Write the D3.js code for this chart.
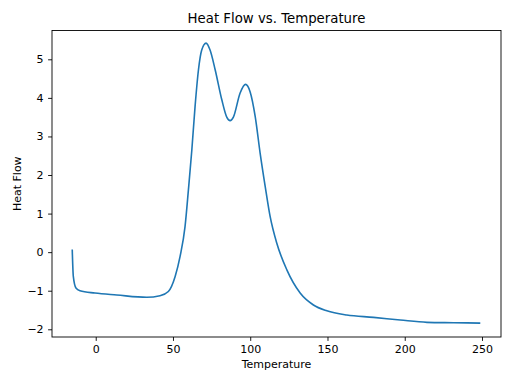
<!DOCTYPE html>
<html>
<head>
<meta charset="utf-8">
<script src="https://cdn.jsdelivr.net/npm/d3@7"></script>
<style>
  body { margin: 0; background: #fff; }
  text { font-family: "DejaVu Sans", sans-serif; fill: #000; }
</style>
</head>
<body>
<div class="chart"></div>
<script>
// temperature readings and heat flow
const temperature = [-15.2, -14.5, -12.8, -10.2, -0.5, 13.6, 33, 41.6, 47, 51.4, 54.6, 57.8, 60, 62.2, 64.3, 66.5, 68.6, 71.4, 74, 77.3, 81.6, 84.8, 87, 89.1, 93.4, 97, 99.9, 103.2, 106.4, 109.7, 112.9, 117.2, 123.7, 132.3, 140.9, 149.6, 162.5, 179.8, 197.1, 214.4, 231.6, 248.9];
const heatFlow = [0.07, -0.63, -0.93, -1.0, -1.06, -1.11, -1.17, -1.13, -1.02, -0.63, -0.11, 0.66, 1.62, 2.65, 3.78, 4.73, 5.24, 5.42, 5.24, 4.73, 3.95, 3.5, 3.41, 3.5, 4.12, 4.35, 4.16, 3.52, 2.57, 1.70, 0.92, 0.23, -0.46, -1.06, -1.37, -1.52, -1.63, -1.69, -1.76, -1.82, -1.83, -1.84];
const xTicks = [0, 50, 100, 150, 200, 250];
const yTicks = [-2, -1, 0, 1, 2, 3, 4, 5];

const width = 512, height = 384;
const margin = {left: 52, right: 11, top: 30.5, bottom: 47};

const data = temperature.map((t, i) => ({t: t, h: heatFlow[i]}));

const svg = d3.select('.chart')
	.append('svg')
	.attr('width', width)
	.attr('height', height);

const x = d3.scaleLinear()
	.domain([-28.3, 262.3])
	.range([margin.left, width - margin.right]);
const y = d3.scaleLinear()
	.domain([-2.2, 5.747])
	.range([height - margin.bottom, margin.top]);

const line = d3.line()
	.x(d => x(d.t))
	.y(d => y(d.h))
	.curve(d3.curveMonotoneX);

svg.append('path')
	.datum(data)
	.attr('d', line)
	.attr('fill', 'none')
	.attr('stroke', '#1f77b4')
	.attr('stroke-width', 1.6)
	.attr('stroke-linejoin', 'round');

const xAxis = svg.append('g')
	.attr('transform', 'translate(0,' + (height - margin.bottom) + ')')
	.call(d3.axisBottom(x).tickValues(xTicks).tickSize(3.9).tickPadding(4.5).tickFormat(d3.format('d')));
const yAxis = svg.append('g')
	.attr('transform', 'translate(' + margin.left + ',0)')
	.call(d3.axisLeft(y).tickValues(yTicks).tickSize(3.9).tickPadding(4.5).tickFormat(d => d < 0 ? '\u2212' + Math.abs(d) : d));

[xAxis, yAxis].forEach(g => {
	g.select('.domain').remove();
	g.selectAll('line').attr('stroke', '#000').attr('stroke-width', 0.9);
	g.selectAll('text').attr('font-size', 11).attr('font-family', '"DejaVu Sans", sans-serif');
});

// frame
svg.append('rect')
	.attr('x', margin.left)
	.attr('y', margin.top)
	.attr('width', width - margin.right - margin.left)
	.attr('height', height - margin.bottom - margin.top)
	.attr('fill', 'none')
	.attr('stroke', '#000')
	.attr('stroke-width', 0.9);

svg.append('text')
	.attr('x', (margin.left + width - margin.right) / 2)
	.attr('y', 23)
	.attr('text-anchor', 'middle')
	.attr('font-size', 13.3)
	.text('Heat Flow vs. Temperature');

svg.append('text')
	.attr('x', (margin.left + width - margin.right) / 2)
	.attr('y', 367.5)
	.attr('text-anchor', 'middle')
	.attr('font-size', 11)
	.text('Temperature');

svg.append('text')
	.attr('transform', 'translate(20.5,' + (margin.top + height - margin.bottom) / 2 + ') rotate(-90)')
	.attr('text-anchor', 'middle')
	.attr('font-size', 11)
	.text('Heat Flow');
</script>
</body>
</html>
